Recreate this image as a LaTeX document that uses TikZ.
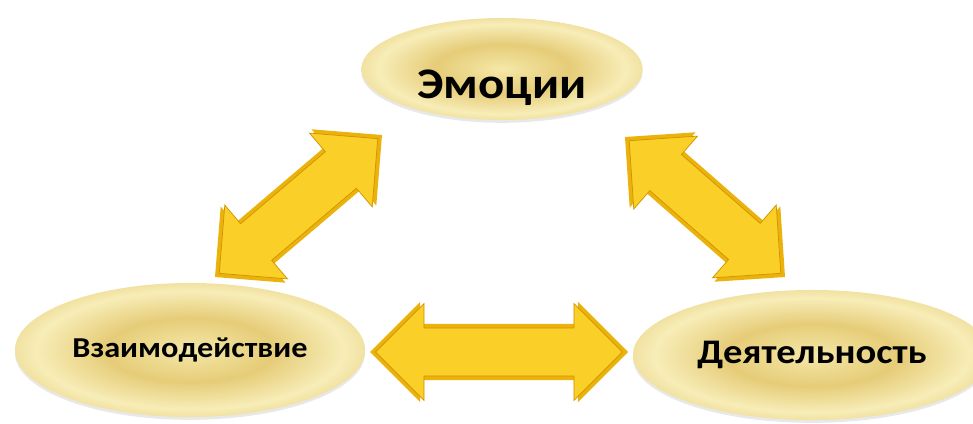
\documentclass[tikz,border=0pt]{standalone}
\usepackage{fontspec}
\setmainfont{Carlito}[FakeStretch=1.12]
\usetikzlibrary{calc,shapes.geometric,shadows}

\definecolor{arrgold}{RGB}{236,178,12}
\definecolor{arrfill}{RGB}{249,207,40}
\definecolor{arrline}{RGB}{208,146,0}

\pgfdeclareradialshading{ripple}{\pgfpoint{0bp}{0bp}}{%
  rgb(0bp)=(0.96,0.91,0.66);
  rgb(12bp)=(0.90,0.80,0.47);
  rgb(22bp)=(0.97,0.93,0.72);
  rgb(32bp)=(0.89,0.78,0.43);
  rgb(41bp)=(0.96,0.91,0.67);
  rgb(46bp)=(0.88,0.77,0.42);
  rgb(49bp)=(0.94,0.89,0.72);
  rgb(50bp)=(0.97,0.95,0.86)}

\tikzset{
  bubble/.style={ellipse, inner sep=0pt, shading=ripple, font=\bfseries,
    drop shadow={opacity=0.18, shadow xshift=0pt, shadow yshift=-2pt}},
}

% block arrow shape from #2 to #3: head length #4, head half width #5, shaft half width #6
\newcommand{\arrowshape}[6]{%
  \path[#1] (#2) -- ($(#2)!#4!(#3)!#5!90:(#3)$) -- ($(#2)!#4!(#3)!#6!90:(#3)$)
    -- ($(#3)!#4!(#2)!#6!-90:(#2)$) -- ($(#3)!#4!(#2)!#5!-90:(#2)$) -- (#3)
    -- ($(#3)!#4!(#2)!#5!90:(#2)$) -- ($(#3)!#4!(#2)!#6!90:(#2)$)
    -- ($(#2)!#4!(#3)!#6!-90:(#3)$) -- ($(#2)!#4!(#3)!#5!-90:(#3)$) -- cycle;}

% golden double arrow between two tips
\newcommand{\blockarrow}[2]{%
  \arrowshape{fill=arrgold}{#1}{#2}{1.25cm}{1.25cm}{0.7cm}
  \coordinate (in1) at ($(#1)!0.14cm!(#2)$);
  \coordinate (in2) at ($(#2)!0.14cm!(#1)$);
  \arrowshape{fill=arrfill, draw=arrline, line width=0.5pt, line join=miter}{in1}{in2}{1.21cm}{1.21cm}{0.6cm}}

\begin{document}
\begin{tikzpicture}[x=0.025cm, y=0.025cm]
\fill[white] (0,0) rectangle (973,423);
\useasboundingbox (0,0) rectangle (973,423);

\node[bubble, minimum width=7.03cm, minimum height=2.55cm, font=\bfseries\fontsize{31}{36}\selectfont,
  text height=1.45cm, text depth=0pt] (emo) at (502,354) {Эмоции};
\node[bubble, minimum width=8.75cm, minimum height=3.35cm, font=\bfseries\fontsize{20.5}{24}\selectfont]
  (vz) at (190,73) {Взаимодействие};
\node[bubble, minimum width=8.95cm, minimum height=3.25cm, font=\bfseries\fontsize{24.5}{28}\selectfont]
  (dey) at (812,68) {Деятельность};

% arrow tips
\coordinate (vzA) at (215,146);
\coordinate (emoA) at (382,288);
\coordinate (emoB) at (625,286);
\coordinate (deyB) at (785,146);
\coordinate (vzC) at (370,71);
\coordinate (deyC) at (628,71);

\blockarrow{vzA}{emoA}
\blockarrow{emoB}{deyB}
\blockarrow{vzC}{deyC}

\end{tikzpicture}
\end{document}
